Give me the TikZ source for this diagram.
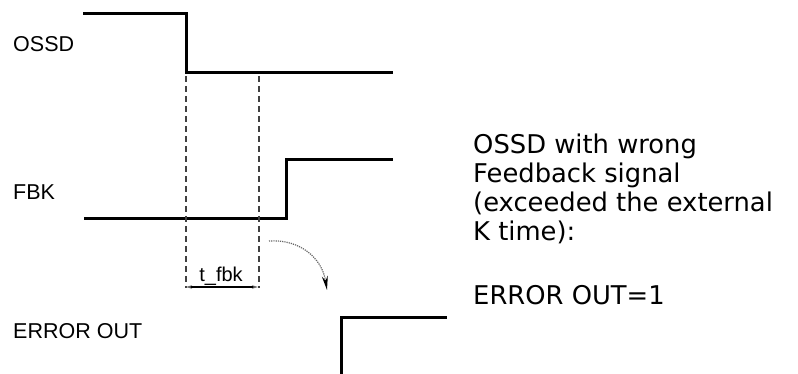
\documentclass[tikz,border=0pt]{standalone}
\usepackage{fontspec}
\setmainfont{Liberation Sans}
\newfontfamily\verd{DejaVu Sans}
\usetikzlibrary{arrows.meta}
\begin{document}
\begin{tikzpicture}[x=1pt,y=-1pt,
  sig/.style={line width=3pt, line join=miter},
  guide/.style={draw=black!75, line width=2pt, dash pattern=on 6pt off 4pt},
  lbl/.style={anchor=base west, inner sep=0pt, font=\fontsize{21.5}{25}\selectfont},
  note/.style={anchor=base west, inner sep=0pt, font=\verd\fontsize{25.8}{29}\selectfont, align=left}]
\useasboundingbox (0,0) rectangle (798,374);
% labels
\node[lbl] (lossd) at (13,51.7) {OSSD};
\node[lbl] (lfbk) at (13,200) {FBK};
\node[lbl] (lerr) at (13,338) {ERROR OUT};
% OSSD signal
\coordinate (o1) at (83,14);
\coordinate (o2) at (186,14);
\coordinate (o3) at (186,72.5);
\coordinate (o4) at (393,72.5);
\draw[sig] (o1) -- (o2) -- (o3) -- (o4);
% FBK signal
\coordinate (f1) at (84,219);
\coordinate (f2) at (286,219);
\coordinate (f3) at (286,159.5);
\coordinate (f4) at (393,159.5);
\draw[sig] (f1) -- (f2) -- (f3) -- (f4);
% guides
\coordinate (g1a) at (185.5,76);
\coordinate (g1b) at (185.5,288);
\coordinate (g2a) at (258.5,76);
\coordinate (g2b) at (258.5,288);
\draw[guide] (g1a) -- (g1b);
\draw[guide] (g2a) -- (g2b);
% dimension
\coordinate (d1) at (186,287);
\coordinate (d2) at (258,287);
\draw[line width=1.5pt, {Stealth[length=6pt,width=3.5pt,color=black!60]}-{Stealth[length=6pt,width=3.5pt,color=black!60]}] (d1) -- (d2);
\node[anchor=base, inner sep=0pt, font=\fontsize{20}{24}\selectfont] (tf) at (221,281) {t\_fbk};
% curved arrow
\coordinate (c1) at (269,241);
\coordinate (c2) at (327,290);
\draw[black!60, line width=1.2pt, densely dotted, -{Stealth[length=14pt,width=6pt,color=black,fill=black]}] (c1) .. controls (300,239) and (322,258) .. (c2);
% ERROR OUT signal
\coordinate (e1) at (341.5,376);
\coordinate (e2) at (341.5,317);
\coordinate (e3) at (447,317);
\draw[sig] (e1) -- (e2) -- (e3);
% note
\node[note] (n1) at (473,240.3) {OSSD with wrong\\Feedback signal\\(exceeded the external\\K time):};
\node[note] (n2) at (473,305) {ERROR OUT=1};
\end{tikzpicture}
\end{document}
